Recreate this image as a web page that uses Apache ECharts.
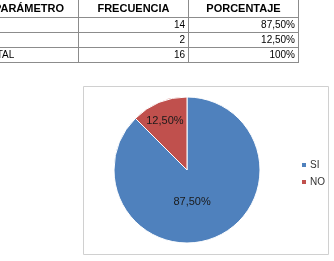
<!DOCTYPE html>
<html><head><meta charset="utf-8">
<script src="https://cdn.jsdelivr.net/npm/echarts@6/dist/echarts.min.js"></script>
<style>
html,body{margin:0;padding:0;background:#fff;width:334px;height:261px;overflow:hidden;position:relative}
#chart{position:absolute;left:0;top:0;width:334px;height:261px}
table{position:absolute;left:-21px;top:0;border-collapse:collapse;font-family:"Liberation Sans",Arial,sans-serif;z-index:2}
td,th{border:1px solid #8c8c8c;padding:0 3px;height:14px;line-height:14px;font-size:10px;color:#000}
th{font-size:11px;font-weight:bold;height:17px;line-height:17px;text-align:center;border-top:none}
td.n{text-align:right}
</style></head><body>
<div id="chart"></div>
<table id="tbl"></table>
<script>
var headers = ['PARÁMETRO','FRECUENCIA','PORCENTAJE'];
var rowLabels = ['SI','NO','TOTAL'];
var frequencies = [14, 2, 16];
var percentages = ['87,50%','12,50%','100%'];
var categories = ['SI','NO'];
var values = [14, 2];
var sliceLabels = ['87,50%','12,50%'];

var widths = [92, 103, 103];
var tbl = document.getElementById('tbl');
var h = '<tr>' + headers.map(function(t,i){return '<th style="width:'+widths[i]+'px">'+t+'</th>';}).join('') + '</tr>';
for (var i=0;i<rowLabels.length;i++){
  h += '<tr><td>'+rowLabels[i]+'</td><td class="n">'+frequencies[i]+'</td><td class="n">'+percentages[i]+'</td></tr>';
}
tbl.innerHTML = h;

var chart = echarts.init(document.getElementById('chart'));
var offsets = [[-10,-5],[-7,-13]];
chart.setOption({
  animation:false,
  graphic:[{type:'rect',shape:{x:83.5,y:86.5,width:245,height:168},style:{fill:'#fff',stroke:'#d0d0d0',lineWidth:1},z:-1}],
  legend:{orient:'vertical',left:295,top:155,itemWidth:6,itemHeight:6,itemGap:7,icon:'rect',
    textStyle:{fontFamily:'Liberation Sans',fontSize:10,color:'#333',padding:[0,0,0,-2]},data:categories},
  color:['#4F81BD','#C0504D'],
  series:[{type:'pie',center:[187,170],radius:73,startAngle:90,clockwise:true,
    itemStyle:{borderColor:'#fff',borderWidth:1},
    label:{show:true,position:'inside',fontFamily:'Liberation Sans',fontSize:11,color:'#1a1a1a'},
    labelLine:{show:false},
    data:categories.map(function(c,i){return {name:c,value:values[i],label:{formatter:sliceLabels[i],offset:offsets[i]}};})
  }]
});
</script>
</body></html>
